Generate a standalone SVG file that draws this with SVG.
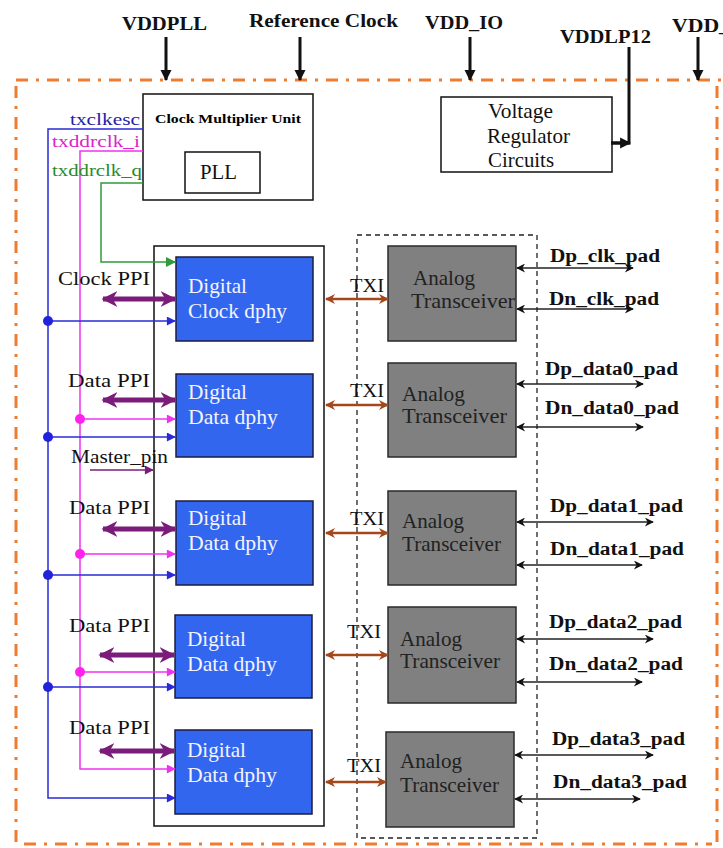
<svg xmlns="http://www.w3.org/2000/svg" width="723" height="848" viewBox="0 0 723 848">
<style>
text{font-family:"Liberation Serif","Times New Roman",serif;}
.top{font-size:19px;font-weight:bold;fill:#111;}
.lbl{font-size:18px;fill:#111;}
.pad{font-size:18px;font-weight:bold;fill:#111;}
.dig{font-size:21px;fill:#f4f4ff;}
.ana{font-size:21px;fill:#222;}
.blue{fill:#3366ee;stroke:#1c1c40;stroke-width:1.5;}
.gray{fill:#808080;stroke:#2a2a2a;stroke-width:1.5;}
.box{fill:#fff;stroke:#111;stroke-width:1.5;}
.border{fill:none;stroke:#ee7d31;stroke-width:3;stroke-dasharray:12 8 3 8;}
.pwr{stroke:#111;stroke-width:3;fill:none;}
.bl{stroke:#2a2ad8;stroke-width:1.5;fill:none;}
.mg{stroke:#ee33ee;stroke-width:1.5;fill:none;}
.gr{stroke:#33993a;stroke-width:1.5;fill:none;}
.pu{stroke:#7b1c7b;stroke-width:5;fill:none;}
.br{stroke:#a4481c;stroke-width:2.5;fill:none;}
.pd{stroke:#222;stroke-width:1.5;fill:none;}
</style>
<defs>
<marker id="mBlk" viewBox="0 0 10 10" refX="9" refY="5" markerWidth="11" markerHeight="12" markerUnits="userSpaceOnUse" orient="auto"><path d="M0,0 L10,5 L0,10 z" fill="#111"/></marker>
<marker id="mBlue" viewBox="0 0 10 10" refX="9" refY="5" markerWidth="10" markerHeight="9" markerUnits="userSpaceOnUse" orient="auto"><path d="M0,0 L10,5 L0,10 z" fill="#2a2ad8"/></marker>
<marker id="mMag" viewBox="0 0 10 10" refX="9" refY="5" markerWidth="10" markerHeight="9" markerUnits="userSpaceOnUse" orient="auto"><path d="M0,0 L10,5 L0,10 z" fill="#ee33ee"/></marker>
<marker id="mGrn" viewBox="0 0 10 10" refX="9" refY="5" markerWidth="11" markerHeight="10" markerUnits="userSpaceOnUse" orient="auto"><path d="M0,0 L10,5 L0,10 z" fill="#33993a"/></marker>
<marker id="mPur" viewBox="0 0 10 10" refX="9" refY="5" markerWidth="16" markerHeight="16" markerUnits="userSpaceOnUse" orient="auto-start-reverse"><path d="M0,0 L10,5 L0,10 L3,5 z" fill="#7b1c7b"/></marker>
<marker id="mPur2" viewBox="0 0 10 10" refX="9" refY="5" markerWidth="10" markerHeight="9" markerUnits="userSpaceOnUse" orient="auto"><path d="M0,0 L10,5 L0,10 z" fill="#7b1c7b"/></marker>
<marker id="mBr" viewBox="0 0 10 10" refX="9" refY="5" markerWidth="12" markerHeight="10" markerUnits="userSpaceOnUse" orient="auto-start-reverse"><path d="M0,0 L10,5 L0,10 L3,5 z" fill="#a4481c"/></marker>
<marker id="mPd" viewBox="0 0 10 10" refX="9" refY="5" markerWidth="12" markerHeight="9" markerUnits="userSpaceOnUse" orient="auto-start-reverse"><path d="M0,0 L10,5 L0,10 L3,5 z" fill="#111"/></marker>
</defs>
<rect width="723" height="848" fill="#fff"/>

<!-- orange boundary -->
<g id="boundary">
<path class="border" d="M16,80 L723,80"/>
<path class="border" d="M16,86 L16,848"/>
<path class="border" d="M717,86 L717,848"/>
<path class="border" d="M24,844 L712,844"/>
</g>

<!-- top labels -->
<g id="labels-top">
<text class="top" x="122" y="30" textLength="85" lengthAdjust="spacingAndGlyphs">VDDPLL</text>
<text class="top" x="249" y="27" textLength="149" lengthAdjust="spacingAndGlyphs">Reference Clock</text>
<text class="top" x="425" y="29" textLength="78" lengthAdjust="spacingAndGlyphs">VDD_IO</text>
<text class="top" x="560" y="43" textLength="91" lengthAdjust="spacingAndGlyphs">VDDLP12</text>
<text class="top" x="672" y="32" textLength="58" lengthAdjust="spacingAndGlyphs">VDD_</text>
</g>

<!-- nodes -->
<g id="cmu">
<rect class="box" x="143" y="94" width="170" height="106"/>
<text x="155" y="123" style="font-size:12px;font-weight:bold" textLength="146" lengthAdjust="spacingAndGlyphs">Clock Multiplier Unit</text>
</g>
<g id="pll">
<rect class="box" x="185" y="152" width="75" height="41"/>
<text x="200" y="179" style="font-size:20px;fill:#111" textLength="37" lengthAdjust="spacingAndGlyphs">PLL</text>
</g>
<g id="vreg">
<rect class="box" x="441" y="97" width="171" height="75"/>
<text x="488" y="118" style="font-size:21px;fill:#111" textLength="65" lengthAdjust="spacingAndGlyphs">Voltage</text>
<text x="487" y="143" style="font-size:21px;fill:#111" textLength="83" lengthAdjust="spacingAndGlyphs">Regulator</text>
<text x="488" y="167" style="font-size:21px;fill:#111" textLength="66" lengthAdjust="spacingAndGlyphs">Circuits</text>
</g>
<g id="digital-container">
<rect class="box" x="154" y="246" width="170" height="580"/>
</g>
<g id="analog-container">
<rect x="357" y="235" width="180" height="603" fill="none" stroke="#222" stroke-width="1.3" stroke-dasharray="5 4"/>
</g>

<g id="dig-clock">
<rect class="blue" x="176" y="257" width="137" height="84"/>
<text class="dig" x="188" y="293" textLength="59" lengthAdjust="spacingAndGlyphs">Digital</text>
<text class="dig" x="188" y="318" textLength="99" lengthAdjust="spacingAndGlyphs">Clock dphy</text>
</g>
<g id="dig-data0">
<rect class="blue" x="176" y="374" width="137" height="83"/>
<text class="dig" x="188" y="399" textLength="59" lengthAdjust="spacingAndGlyphs">Digital</text>
<text class="dig" x="188" y="424" textLength="90" lengthAdjust="spacingAndGlyphs">Data dphy</text>
</g>
<g id="dig-data1">
<rect class="blue" x="176" y="501" width="137" height="84"/>
<text class="dig" x="188" y="525" textLength="59" lengthAdjust="spacingAndGlyphs">Digital</text>
<text class="dig" x="188" y="550" textLength="90" lengthAdjust="spacingAndGlyphs">Data dphy</text>
</g>
<g id="dig-data2">
<rect class="blue" x="175" y="615" width="137" height="83"/>
<text class="dig" x="187" y="646" textLength="59" lengthAdjust="spacingAndGlyphs">Digital</text>
<text class="dig" x="187" y="671" textLength="90" lengthAdjust="spacingAndGlyphs">Data dphy</text>
</g>
<g id="dig-data3">
<rect class="blue" x="175" y="730" width="137" height="84"/>
<text class="dig" x="187" y="757" textLength="59" lengthAdjust="spacingAndGlyphs">Digital</text>
<text class="dig" x="187" y="782" textLength="90" lengthAdjust="spacingAndGlyphs">Data dphy</text>
</g>

<g id="ana-clock">
<rect class="gray" x="388" y="246" width="128" height="95"/>
<text class="ana" x="413" y="285" textLength="62" lengthAdjust="spacingAndGlyphs">Analog</text>
<text class="ana" x="411" y="308" textLength="104" lengthAdjust="spacingAndGlyphs">Transceiver</text>
</g>
<g id="ana-data0">
<rect class="gray" x="388" y="363" width="128" height="94"/>
<text class="ana" x="402" y="401" textLength="63" lengthAdjust="spacingAndGlyphs">Analog</text>
<text class="ana" x="402" y="423" textLength="105" lengthAdjust="spacingAndGlyphs">Transceiver</text>
</g>
<g id="ana-data1">
<rect class="gray" x="388" y="491" width="128" height="94"/>
<text class="ana" x="402" y="528" textLength="62" lengthAdjust="spacingAndGlyphs">Analog</text>
<text class="ana" x="402" y="551" textLength="99" lengthAdjust="spacingAndGlyphs">Transceiver</text>
</g>
<g id="ana-data2">
<rect class="gray" x="388" y="607" width="128" height="96"/>
<text class="ana" x="400" y="646" textLength="62" lengthAdjust="spacingAndGlyphs">Analog</text>
<text class="ana" x="400" y="668" textLength="100" lengthAdjust="spacingAndGlyphs">Transceiver</text>
</g>
<g id="ana-data3">
<rect class="gray" x="386" y="732" width="128" height="95"/>
<text class="ana" x="400" y="768" textLength="62" lengthAdjust="spacingAndGlyphs">Analog</text>
<text class="ana" x="400" y="792" textLength="99" lengthAdjust="spacingAndGlyphs">Transceiver</text>
</g>

<!-- connectors -->
<g id="connectors">
<line class="pwr" x1="166" y1="37" x2="166" y2="80" marker-end="url(#mBlk)"/>
<line class="pwr" x1="300" y1="37" x2="300" y2="80" marker-end="url(#mBlk)"/>
<line class="pwr" x1="470" y1="37" x2="470" y2="80" marker-end="url(#mBlk)"/>
<line class="pwr" x1="698" y1="37" x2="698" y2="80" marker-end="url(#mBlk)"/>
<path class="pwr" d="M629,47 L629,143 L611,143"/>
<line class="pwr" x1="611" y1="143" x2="630" y2="143" marker-end="url(#mBlk)"/>

<path class="bl" d="M143,129 L48,129 L48,798 L175,798" marker-end="url(#mBlue)"/>
<path class="mg" d="M143,151 L80,151 L80,769 L175,769" marker-end="url(#mMag)"/>
<path class="gr" d="M143,183 L101,183 L101,262 L175,262" marker-end="url(#mGrn)"/>

<line class="bl" x1="48" y1="321" x2="175" y2="321" marker-end="url(#mBlue)"/>
<line class="bl" x1="48" y1="437" x2="175" y2="437" marker-end="url(#mBlue)"/>
<line class="bl" x1="48" y1="575" x2="175" y2="575" marker-end="url(#mBlue)"/>
<line class="bl" x1="48" y1="687" x2="175" y2="687" marker-end="url(#mBlue)"/>
<circle cx="48" cy="321" r="5" fill="#2222dd"/>
<circle cx="48" cy="437" r="5" fill="#2222dd"/>
<circle cx="48" cy="575" r="5" fill="#2222dd"/>
<circle cx="48" cy="687" r="5" fill="#2222dd"/>

<line class="mg" x1="80" y1="419" x2="175" y2="419" marker-end="url(#mMag)"/>
<line class="mg" x1="80" y1="554" x2="175" y2="554" marker-end="url(#mMag)"/>
<line class="mg" x1="80" y1="672" x2="175" y2="672" marker-end="url(#mMag)"/>
<circle cx="80" cy="419" r="5" fill="#ff22ee"/>
<circle cx="80" cy="554" r="5" fill="#ff22ee"/>
<circle cx="80" cy="672" r="5" fill="#ff22ee"/>

<line class="pu" x1="103" y1="299" x2="175" y2="299" marker-start="url(#mPur)" marker-end="url(#mPur)"/>
<line class="pu" x1="103" y1="400" x2="175" y2="400" marker-start="url(#mPur)" marker-end="url(#mPur)"/>
<line class="pu" x1="103" y1="529" x2="175" y2="529" marker-start="url(#mPur)" marker-end="url(#mPur)"/>
<line class="pu" x1="100" y1="655" x2="174" y2="655" marker-start="url(#mPur)" marker-end="url(#mPur)"/>
<line class="pu" x1="100" y1="751" x2="174" y2="751" marker-start="url(#mPur)" marker-end="url(#mPur)"/>
<line x1="90" y1="470" x2="153" y2="470" stroke="#7b1c7b" stroke-width="1.5" marker-end="url(#mPur2)"/>

<line class="br" x1="326" y1="299" x2="388" y2="299" marker-start="url(#mBr)" marker-end="url(#mBr)"/>
<line class="br" x1="326" y1="405" x2="388" y2="405" marker-start="url(#mBr)" marker-end="url(#mBr)"/>
<line class="br" x1="326" y1="533" x2="388" y2="533" marker-start="url(#mBr)" marker-end="url(#mBr)"/>
<line class="br" x1="326" y1="655" x2="388" y2="655" marker-start="url(#mBr)" marker-end="url(#mBr)"/>
<line class="br" x1="326" y1="782" x2="386" y2="782" marker-start="url(#mBr)" marker-end="url(#mBr)"/>

<line class="pd" x1="517" y1="268" x2="633" y2="268" marker-start="url(#mPd)" marker-end="url(#mPd)"/>
<line class="pd" x1="517" y1="309" x2="633" y2="309" marker-start="url(#mPd)" marker-end="url(#mPd)"/>
<line class="pd" x1="517" y1="384" x2="643" y2="384" marker-start="url(#mPd)" marker-end="url(#mPd)"/>
<line class="pd" x1="517" y1="427" x2="643" y2="427" marker-start="url(#mPd)" marker-end="url(#mPd)"/>
<line class="pd" x1="517" y1="522" x2="653" y2="522" marker-start="url(#mPd)" marker-end="url(#mPd)"/>
<line class="pd" x1="517" y1="565" x2="642" y2="565" marker-start="url(#mPd)" marker-end="url(#mPd)"/>
<line class="pd" x1="517" y1="639" x2="653" y2="639" marker-start="url(#mPd)" marker-end="url(#mPd)"/>
<line class="pd" x1="517" y1="682" x2="642" y2="682" marker-start="url(#mPd)" marker-end="url(#mPd)"/>
<line class="pd" x1="515" y1="755" x2="653" y2="755" marker-start="url(#mPd)" marker-end="url(#mPd)"/>
<line class="pd" x1="515" y1="799" x2="640" y2="799" marker-start="url(#mPd)" marker-end="url(#mPd)"/>
</g>

<g id="labels-left">
<text x="70" y="125" style="font-size:17px;fill:#2222aa" textLength="70" lengthAdjust="spacingAndGlyphs">txclkesc</text>
<text x="52" y="147" style="font-size:17px;fill:#dd22cc" textLength="88" lengthAdjust="spacingAndGlyphs">txddrclk_i</text>
<text x="52" y="176" style="font-size:17px;fill:#2a8a2a" textLength="90" lengthAdjust="spacingAndGlyphs">txddrclk_q</text>
<text class="lbl" x="58" y="285" textLength="92" lengthAdjust="spacingAndGlyphs">Clock  PPI</text>
<text class="lbl" x="68" y="387" textLength="82" lengthAdjust="spacingAndGlyphs">Data  PPI</text>
<text class="lbl" x="71" y="463" textLength="97" lengthAdjust="spacingAndGlyphs">Master_pin</text>
<text class="lbl" x="69" y="514" textLength="81" lengthAdjust="spacingAndGlyphs">Data  PPI</text>
<text class="lbl" x="69" y="632" textLength="81" lengthAdjust="spacingAndGlyphs">Data  PPI</text>
<text class="lbl" x="69" y="734" textLength="81" lengthAdjust="spacingAndGlyphs">Data  PPI</text>
</g>
<g id="labels-txi">
<text class="lbl" x="350" y="292" textLength="34" lengthAdjust="spacingAndGlyphs">TXI</text>
<text class="lbl" x="350" y="397" textLength="34" lengthAdjust="spacingAndGlyphs">TXI</text>
<text class="lbl" x="350" y="525" textLength="34" lengthAdjust="spacingAndGlyphs">TXI</text>
<text class="lbl" x="347" y="638" textLength="34" lengthAdjust="spacingAndGlyphs">TXI</text>
<text class="lbl" x="347" y="772" textLength="34" lengthAdjust="spacingAndGlyphs">TXI</text>
</g>
<g id="labels-pads">
<text class="pad" x="550" y="262" textLength="110" lengthAdjust="spacingAndGlyphs">Dp_clk_pad</text>
<text class="pad" x="549" y="305" textLength="110" lengthAdjust="spacingAndGlyphs">Dn_clk_pad</text>
<text class="pad" x="545" y="375" textLength="133" lengthAdjust="spacingAndGlyphs">Dp_data0_pad</text>
<text class="pad" x="545" y="414" textLength="134" lengthAdjust="spacingAndGlyphs">Dn_data0_pad</text>
<text class="pad" x="550" y="512" textLength="133" lengthAdjust="spacingAndGlyphs">Dp_data1_pad</text>
<text class="pad" x="550" y="555" textLength="134" lengthAdjust="spacingAndGlyphs">Dn_data1_pad</text>
<text class="pad" x="549" y="628" textLength="133" lengthAdjust="spacingAndGlyphs">Dp_data2_pad</text>
<text class="pad" x="549" y="670" textLength="134" lengthAdjust="spacingAndGlyphs">Dn_data2_pad</text>
<text class="pad" x="552" y="745" textLength="133" lengthAdjust="spacingAndGlyphs">Dp_data3_pad</text>
<text class="pad" x="553" y="788" textLength="134" lengthAdjust="spacingAndGlyphs">Dn_data3_pad</text>
</g>
</svg>
